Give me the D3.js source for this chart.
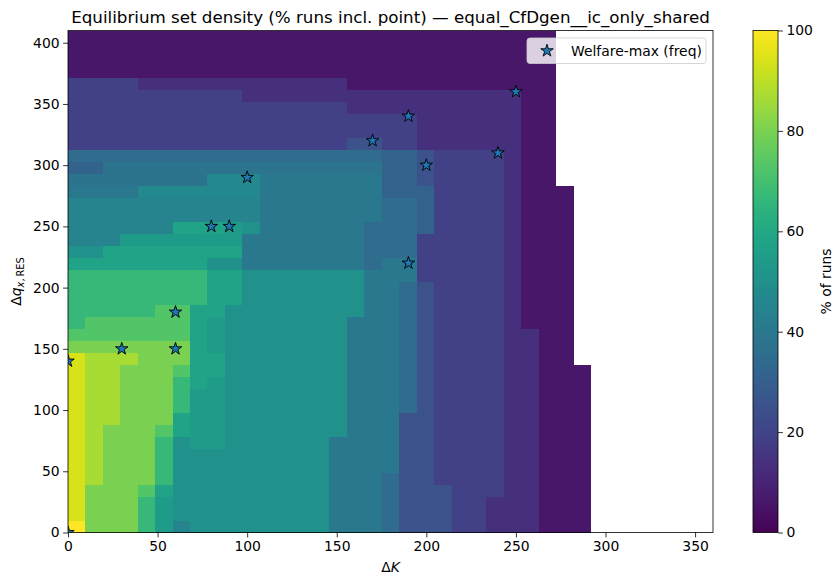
<!DOCTYPE html>
<html>
<head>
<meta charset="utf-8">
<script src="https://cdn.jsdelivr.net/npm/d3@7"></script>
<style>
  body { margin: 0; background: #fff; font-family: "DejaVu Sans", sans-serif; }
</style>
</head>
<body>
<div id="chart"></div>
<script>
// grid coordinates of the density map
var deltaK = [0, 10, 20, 30, 40, 50, 60, 70, 80, 90, 100, 110, 120, 130, 140, 150, 160, 170, 180,
  190, 200, 210, 220, 230, 240, 250, 260, 270, 280, 290, 300, 310, 320, 330, 340, 350, 360];
var deltaQ = [0, 10, 20, 30, 40, 50, 60, 70, 80, 90, 100, 110, 120, 130, 140, 150, 160, 170, 180, 190, 200,
  210, 220, 230, 240, 250, 260, 270, 280, 290, 300, 310, 320, 330, 340, 350, 360, 370, 380, 390, 400, 410];

// % of runs per level code ("." = no data)
var levels = { a: 6, b: 14, c: 19, d: 25, e: 31, f: 35, F: 38, g: 40, h: 45, H: 47, i: 50,
  j: 55, k: 58, l: 67, m: 73, o: 80, q: 87, r: 94, s: 100 };

// rows of the map, top (dq = 410) first, run-length coded over dK = 0..290
var densityRows = [
  "a28 .2", "a28 .2", "a28 .2", "a28 .2",
  "c4 b12 a12 .2",
  "c10 b16 a2 .2",
  "c16 b10 a2 .2",
  "c20 b6 a2 .2",
  "c20 b6 a2 .2",
  "c16 d2 c2 b6 a2 .2",
  "f18 e2 d1 c4 b1 a2 .2",
  "e2 F16 e2 d1 c4 b1 a2 .2",
  "F8 H3 g7 e2 d1 c4 b1 a2 .2",
  "g4 H7 g7 e3 c4 b1 a3 .1",
  "h11 g7 f2 e1 c4 b1 a3 .1",
  "h11 g7 f2 e1 c4 b1 a3 .1",
  "h6 k3 j1 i1 g6 f3 e1 c4 b1 a3 .1",
  "h3 j7 g7 f3 c5 b1 a3 .1",
  "i2 k8 g7 f3 c5 b1 a3 .1",
  "k8 i2 g7 f1 g2 c5 b1 a3 .1",
  "l8 k2 i7 g3 c5 b1 a3 .1",
  "l8 k2 i7 g2 f1 d1 c4 b1 a3 .1",
  "l8 k2 i7 g2 f1 d1 c4 b1 a3 .1",
  "l5 m2 k2 i8 g2 f1 d1 c4 b1 a3 .1",
  "l1 m6 k1 j1 i7 g3 f1 d1 c4 b1 a3 .1",
  "m7 k1 j1 i7 g3 f1 d1 c4 b2 a2 .1",
  "o7 k1 j1 i7 g3 f1 d1 c4 b2 a2 .1",
  "r1 q3 o3 k2 i7 g3 f1 d1 c4 b2 a2 .1",
  "r1 q2 o3 m1 k2 i7 g3 f1 d1 c4 b2 a3",
  "r1 q2 o3 l1 k1 j1 i7 g3 f1 d1 c4 b2 a3",
  "r1 q2 o3 l1 j2 i7 g3 f1 d1 c4 b2 a3",
  "r1 q2 o3 l1 j2 i7 g3 f1 d1 c4 b2 a3",
  "r1 q2 o3 k1 j2 i7 g3 d2 c4 b2 a3",
  "r1 q1 o3 m1 k1 j2 i7 g3 d2 c4 b2 a3",
  "r1 q1 o3 l1 i1 j2 i6 g4 d2 c4 b2 a3",
  "r1 q1 o3 l1 i9 g4 d2 c4 b2 a3",
  "r1 q1 o3 l1 i9 g4 d2 c4 b2 a3",
  "r1 q1 o3 l1 i9 g3 f1 d2 c4 b2 a3",
  "r1 o3 m1 k1 i9 g3 f1 d3 c3 b2 a3",
  "r1 o3 l1 j1 i9 g3 f1 d3 c2 b3 a3",
  "r1 o3 l1 j1 i9 g3 f1 d3 c2 b3 a3",
  "s1 o3 l1 j1 h1 i8 g3 f1 d3 c2 b3 a3"
];

// welfare-max points
var welfareK = [0, 0, 30, 60, 60, 80, 90, 100, 170, 190, 190, 200, 240, 250];
var welfareQ = [0, 140, 150, 150, 180, 250, 250, 290, 320, 340, 220, 300, 310, 360];

var xTicks = [0, 50, 100, 150, 200, 250, 300, 350];
var yTicks = [0, 50, 100, 150, 200, 250, 300, 350, 400];
var cbTicks = [0, 20, 40, 60, 80, 100];

var svgWidth = 833;
var svgHeight = 577;
var margin = { top: 30.5, left: 68 };
var width = 645;
var height = 502;

var svg = d3.select("#chart")
  .append("svg")
  .attr("width", svgWidth)
  .attr("height", svgHeight);

var chartGroup = svg.append("g")
  .attr("transform", `translate(${margin.left}, ${margin.top})`);

// decode the rows into cells
var cells = [];
densityRows.forEach(function(row, r) {
  var col = 0;
  row.split(" ").forEach(function(run) {
    var code = run[0];
    var n = +run.slice(1);
    for (var t = 0; t < n; t++) {
      if (code !== ".") {
        cells.push({ k: deltaK[col], q: deltaQ[deltaQ.length - 1 - r], v: levels[code] });
      }
      col++;
    }
  });
});

var xBand = d3.scaleBand().domain(deltaK).range([0, width]);
var yBand = d3.scaleBand().domain(deltaQ).range([height, 0]);
var xScale = d3.scaleLinear().domain([0, 360]).range([0, width]);
var yScale = d3.scaleLinear().domain([0, 410]).range([height, 0]);
var color = d3.scaleSequential(d3.interpolateViridis).domain([0, 100]);

chartGroup.append("g")
  .selectAll("rect")
  .data(cells)
  .enter()
  .append("rect")
  .attr("x", d => xBand(d.k))
  .attr("y", d => yBand(d.q))
  .attr("width", xBand.bandwidth())
  .attr("height", yBand.bandwidth())
  .attr("fill", d => color(d.v))
  .attr("shape-rendering", "crispEdges");

// stars, clipped to the axes
svg.append("defs").append("clipPath").attr("id", "plotclip")
  .append("rect").attr("width", width).attr("height", height);

var starSize = 48;

chartGroup.append("g")
  .attr("clip-path", "url(#plotclip)")
  .selectAll("path")
  .data(welfareK)
  .enter()
  .append("path")
  .attr("d", d3.symbol(d3.symbolStar, starSize))
  .attr("transform", (d, i) => `translate(${xScale(d)}, ${yScale(welfareQ[i])})`)
  .attr("fill", "#1f77b4")
  .attr("stroke", "#000")
  .attr("stroke-width", 0.9);

// axes
var bottomAxis = d3.axisBottom(xScale).tickValues(xTicks).tickSizeOuter(0).tickSize(4.9).tickPadding(3.5);
var leftAxis = d3.axisLeft(yScale).tickValues(yTicks).tickSizeOuter(0).tickSize(4.9).tickPadding(3.5);

var xg = chartGroup.append("g")
  .attr("transform", `translate(0, ${height})`)
  .call(bottomAxis);
var yg = chartGroup.append("g")
  .call(leftAxis);

[xg, yg].forEach(function(g) {
  g.select(".domain").remove();
  g.selectAll("line").attr("stroke", "#000").attr("stroke-width", 0.8);
  g.selectAll("text")
    .style("font-family", "'DejaVu Sans', sans-serif")
    .style("font-size", "13.9px")
    .attr("fill", "#000");
});

chartGroup.append("rect")
  .attr("width", width)
  .attr("height", height)
  .attr("fill", "none")
  .attr("stroke", "#000")
  .attr("stroke-width", 0.8);

// legend
var legend = chartGroup.append("g").attr("transform", "translate(459, 7.5)");
legend.append("rect")
  .attr("width", 179)
  .attr("height", 25.5)
  .attr("rx", 3)
  .attr("fill", "#fff")
  .attr("fill-opacity", 0.8)
  .attr("stroke", "#cccccc")
  .attr("stroke-width", 0.8);
legend.append("path")
  .attr("d", d3.symbol(d3.symbolStar, starSize))
  .attr("transform", "translate(20, 12.8)")
  .attr("fill", "#1f77b4")
  .attr("stroke", "#000")
  .attr("stroke-width", 0.9);
legend.append("text")
  .attr("x", 44)
  .attr("y", 17.8)
  .style("font-size", "13.9px")
  .text("Welfare-max (freq)");

// title and axis labels
svg.append("text")
  .attr("x", margin.left + width / 2)
  .attr("y", 22.5)
  .attr("text-anchor", "middle")
  .style("font-size", "16.7px")
  .text("Equilibrium set density (% runs incl. point) \u2014 equal_CfDgen__ic_only_shared");

var xlab = svg.append("text")
  .attr("x", margin.left + width / 2)
  .attr("y", 572)
  .attr("text-anchor", "middle")
  .style("font-size", "13.9px");
xlab.append("tspan").text("\u0394");
xlab.append("tspan").style("font-style", "italic").text("K");

var ylab = svg.append("text")
  .attr("transform", `translate(21, ${margin.top + height / 2}) rotate(-90)`)
  .attr("text-anchor", "middle")
  .style("font-size", "13.9px");
ylab.append("tspan").text("\u0394");
ylab.append("tspan").style("font-style", "italic").text("q");
ylab.append("tspan").attr("dy", 3).style("font-size", "9.8px").style("font-style", "italic").text("x");
ylab.append("tspan").style("font-size", "9.8px").text(",\u2009RES");

// colorbar
var cbX = 753, cbW = 25;
var grad = svg.select("defs").append("linearGradient")
  .attr("id", "cbgrad")
  .attr("x1", 0).attr("y1", 1).attr("x2", 0).attr("y2", 0);
d3.range(0, 1.0001, 0.02).forEach(function(t) {
  grad.append("stop").attr("offset", t).attr("stop-color", d3.interpolateViridis(t));
});
var cbScale = d3.scaleLinear().domain([0, 100]).range([margin.top + height, margin.top]);
svg.append("rect")
  .attr("x", cbX).attr("y", margin.top)
  .attr("width", cbW).attr("height", height)
  .attr("fill", "url(#cbgrad)")
  .attr("stroke", "#000")
  .attr("stroke-width", 0.8);
var cbAxis = d3.axisRight(cbScale).tickValues(cbTicks).tickSizeOuter(0).tickSize(4.9).tickPadding(3.5);
var cg = svg.append("g").attr("transform", `translate(${cbX + cbW}, 0)`).call(cbAxis);
cg.select(".domain").remove();
cg.selectAll("line").attr("stroke", "#000").attr("stroke-width", 0.8);
cg.selectAll("text")
  .style("font-family", "'DejaVu Sans', sans-serif")
  .style("font-size", "13.9px")
  .attr("fill", "#000");

svg.append("text")
  .attr("transform", `translate(826, ${margin.top + height / 2}) rotate(-90)`)
  .attr("text-anchor", "middle")
  .attr("dy", "0.35em")
  .style("font-size", "13.9px")
  .text("% of runs");
</script>
</body>
</html>
